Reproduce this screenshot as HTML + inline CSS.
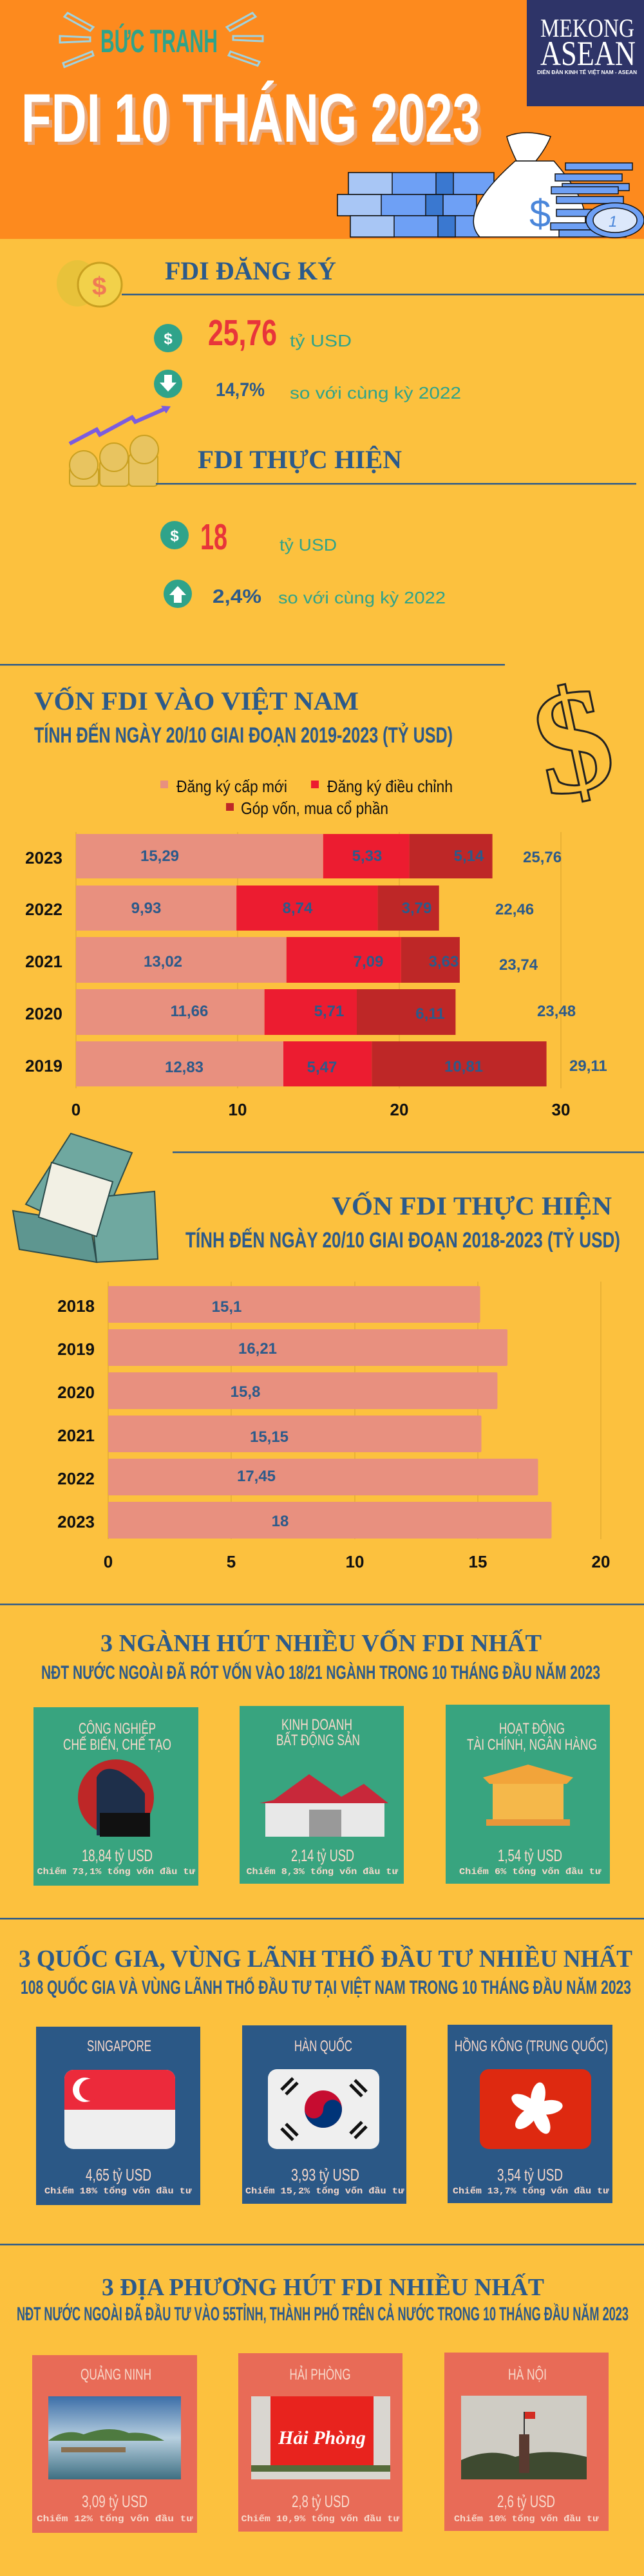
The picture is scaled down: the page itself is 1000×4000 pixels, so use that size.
<!DOCTYPE html>
<html><head><meta charset="utf-8"><style>html,body{margin:0;padding:0;background:#FCC13E}svg{display:block}</style></head>
<body>
<svg width="1000" height="4000" viewBox="0 0 1000 4000" xmlns="http://www.w3.org/2000/svg" font-family="Liberation Sans, sans-serif">
<rect width="1000" height="4000" fill="#FCC13E"/>
<!-- HEADER -->
<rect width="1000" height="371" fill="#FD8A1E"/>
<rect x="818" y="0" width="182" height="165" fill="#2E3468"/>
<text x="839" y="57" font-family="Liberation Serif, serif" font-size="40" fill="#fff" textLength="146" lengthAdjust="spacingAndGlyphs">MEKONG</text>
<text x="839" y="101" font-family="Liberation Serif, serif" font-size="54" fill="#fff" textLength="148" lengthAdjust="spacingAndGlyphs">ASEAN</text>
<text x="834" y="115" font-size="8" font-weight="bold" fill="#fff" textLength="155" lengthAdjust="spacingAndGlyphs">DIỄN ĐÀN KINH TẾ VIỆT NAM - ASEAN</text>
<g stroke="#9FD3E0" stroke-width="3" fill="none">
<path d="M105 20 L145 42 L140 48 L100 26Z"/><path d="M93 56 L140 58 L140 64 L93 66Z"/><path d="M98 98 L143 80 L145 86 L100 104Z"/>
<path d="M392 20 L352 42 L357 48 L397 26Z"/><path d="M362 56 L408 56 L408 64 L362 62Z"/><path d="M358 80 L403 96 L400 102 L355 86Z"/>
</g>
<text x="156" y="81" font-size="50" font-weight="bold" fill="#2FA38A" textLength="182" lengthAdjust="spacingAndGlyphs">BỨC TRANH</text>
<text x="38" y="225" font-size="107" font-weight="bold" fill="#E8A77A" textLength="712" lengthAdjust="spacingAndGlyphs">FDI 10 THÁNG 2023</text>
<text x="33" y="220" font-size="107" font-weight="bold" fill="#fff" textLength="712" lengthAdjust="spacingAndGlyphs">FDI 10 THÁNG 2023</text>
<!-- money illustration -->
<g stroke="#111" stroke-width="1.5">
<rect x="541" y="268" width="226" height="34" fill="#6EA0F5"/><rect x="541" y="268" width="68" height="34" fill="#A8C6F5"/><rect x="677" y="268" width="27" height="34" fill="#3A78D0"/>
<rect x="524" y="302" width="216" height="33" fill="#6EA0F5"/><rect x="524" y="302" width="68" height="33" fill="#A8C6F5"/><rect x="661" y="302" width="27" height="33" fill="#3A78D0"/>
<rect x="544" y="335" width="216" height="33" fill="#6EA0F5"/><rect x="544" y="335" width="68" height="33" fill="#A8C6F5"/><rect x="680" y="335" width="27" height="33" fill="#3A78D0"/>
<path d="M802 250 Q790 225 787 212 Q815 200 855 212 Q848 230 832 250Z" fill="#fff"/>
<path d="M800 250 L860 250 Q930 330 900 368 L745 368 Q710 330 800 250Z" fill="#fff"/>
<rect x="878" y="253" width="104" height="11" fill="#6EA0F5"/><rect x="862" y="270" width="104" height="11" fill="#6EA0F5"/>
<rect x="873" y="285" width="104" height="11" fill="#6EA0F5"/><rect x="856" y="290" width="104" height="11" fill="#6EA0F5"/>
<rect x="864" y="305" width="104" height="11" fill="#6EA0F5"/><rect x="864" y="325" width="104" height="11" fill="#6EA0F5"/>
<rect x="855" y="346" width="104" height="11" fill="#6EA0F5"/><rect x="868" y="357" width="104" height="11" fill="#6EA0F5"/>
<ellipse cx="955" cy="342" rx="45" ry="27" fill="#6EA0F5"/><ellipse cx="955" cy="342" rx="34" ry="19" fill="#DCE8FB"/>
</g>
<text x="822" y="352" font-size="60" fill="#4A86DA">$</text>
<text x="945" y="352" font-size="24" font-style="italic" fill="#4A86DA">1</text>
<!-- FDI DANG KY -->
<g>
<ellipse cx="120" cy="440" rx="32" ry="36" fill="#E8C23A"/><circle cx="155" cy="442" r="34" fill="#F2D14A" stroke="#C9A020" stroke-width="3"/>
<text x="143" y="458" font-size="40" font-weight="bold" fill="#F07A55">$</text>
</g>
<text x="256" y="434" font-family="Liberation Serif, serif" font-size="40" font-weight="bold" fill="#2C5A8A" textLength="266" lengthAdjust="spacingAndGlyphs">FDI ĐĂNG KÝ</text>
<rect x="189" y="456" width="811" height="2.5" fill="#2C5A8A"/>
<circle cx="261" cy="525" r="22" fill="#2FA38A"/><text x="261" y="534" text-anchor="middle" font-size="24" font-weight="bold" fill="#fff">$</text>
<text x="323" y="536" font-size="57" font-weight="bold" fill="#E8353A" textLength="107" lengthAdjust="spacingAndGlyphs">25,76</text>
<text x="450" y="538" font-size="26" fill="#2FA38A" textLength="96" lengthAdjust="spacingAndGlyphs">tỷ USD</text>
<circle cx="261" cy="596" r="22" fill="#2FA38A"/><path d="M255 582 h12 v12 h7 l-13 14 l-13 -14 h7z" fill="#fff"/>
<text x="335" y="615" font-size="30" font-weight="bold" fill="#2C5A8A" textLength="76" lengthAdjust="spacingAndGlyphs">14,7%</text>
<text x="450" y="619" font-size="26" fill="#2FA38A" textLength="266" lengthAdjust="spacingAndGlyphs">so với cùng kỳ 2022</text>
<path d="M108 689 L150 667 L155 675 L205 648 L210 655 L258 634" stroke="#7B5CE0" stroke-width="6" fill="none"/>
<path d="M265 631 L250 630 L258 642Z" fill="#7B5CE0"/>
<g fill="#E8C460" stroke="#C9A020" stroke-width="2">
<rect x="108" y="725" width="45" height="30" rx="6"/><rect x="155" y="715" width="45" height="40" rx="6"/><rect x="200" y="705" width="45" height="50" rx="6"/>
<circle cx="130" cy="722" r="22"/><circle cx="177" cy="710" r="22"/><circle cx="224" cy="698" r="22"/>
</g>
<text x="307" y="727" font-family="Liberation Serif, serif" font-size="40" font-weight="bold" fill="#2C5A8A" textLength="317" lengthAdjust="spacingAndGlyphs">FDI THỰC HIỆN</text>
<rect x="242" y="750" width="746" height="2.5" fill="#2C5A8A"/>
<circle cx="271" cy="831" r="22" fill="#2FA38A"/><text x="271" y="840" text-anchor="middle" font-size="24" font-weight="bold" fill="#fff">$</text>
<text x="311" y="853" font-size="57" font-weight="bold" fill="#E8353A" textLength="42" lengthAdjust="spacingAndGlyphs">18</text>
<text x="434" y="855" font-size="26" fill="#2FA38A" textLength="89" lengthAdjust="spacingAndGlyphs">tỷ USD</text>
<circle cx="276" cy="922" r="22" fill="#2FA38A"/><path d="M270 936 h12 v-12 h7 l-13 -14 l-13 14 h7z" fill="#fff"/>
<text x="330" y="936" font-size="30" font-weight="bold" fill="#2C5A8A" textLength="76" lengthAdjust="spacingAndGlyphs">2,4%</text>
<text x="432" y="937" font-size="26" fill="#2FA38A" textLength="260" lengthAdjust="spacingAndGlyphs">so với cùng kỳ 2022</text>
<!-- CHART 1 -->
<rect x="0" y="1031" width="784" height="2.5" fill="#2C5A8A"/>
<text x="53" y="1102" font-family="Liberation Serif, serif" font-size="40" font-weight="bold" fill="#2C5A8A" textLength="504" lengthAdjust="spacingAndGlyphs">VỐN FDI VÀO VIỆT NAM</text>
<text x="53" y="1153" font-size="34" font-weight="bold" fill="#2C5A8A" textLength="650" lengthAdjust="spacingAndGlyphs">TÍNH ĐẾN NGÀY 20/10 GIAI ĐOẠN 2019-2023 (TỶ USD)</text>
<text x="830" y="1230" font-family="Liberation Serif, serif" font-size="230" font-weight="bold" fill="#FCC13E" stroke="#222" stroke-width="3" transform="rotate(-12 880 1140)">$</text>
<rect x="249" y="1212" width="12" height="12" fill="#E8907F"/><text x="274" y="1230" font-size="26" fill="#111" textLength="172" lengthAdjust="spacingAndGlyphs">Đăng ký cấp mới</text>
<rect x="483" y="1212" width="12" height="12" fill="#EC1C30"/><text x="508" y="1230" font-size="26" fill="#111" textLength="195" lengthAdjust="spacingAndGlyphs">Đăng ký điều chỉnh</text>
<rect x="351" y="1247" width="12" height="12" fill="#BE2727"/><text x="374" y="1264" font-size="26" fill="#111" textLength="229" lengthAdjust="spacingAndGlyphs">Góp vốn, mua cổ phần</text>
<g stroke="#D9A22E" stroke-width="1"><line x1="118" y1="1292" x2="118" y2="1690"/><line x1="369" y1="1292" x2="369" y2="1690"/><line x1="620" y1="1292" x2="620" y2="1690"/><line x1="871" y1="1292" x2="871" y2="1690"/></g>
<g font-size="24" font-weight="bold" fill="#2C5A8A">
<rect x="118" y="1295" width="383.8" height="69" fill="#E8907F"/><rect x="501.8" y="1295" width="133.8" height="69" fill="#EC1C30"/><rect x="635.6" y="1295" width="129" height="69" fill="#BE2727"/>
<text x="248" y="1337" text-anchor="middle">15,29</text><text x="570" y="1337" text-anchor="middle">5,33</text><text x="728" y="1337" text-anchor="middle">5,14</text><text x="812" y="1339">25,76</text>
<rect x="118" y="1375" width="249.2" height="70" fill="#E8907F"/><rect x="367.2" y="1375" width="219.4" height="70" fill="#EC1C30"/><rect x="586.6" y="1375" width="95.1" height="70" fill="#BE2727"/>
<text x="227" y="1418" text-anchor="middle">9,93</text><text x="462" y="1418" text-anchor="middle">8,74</text><text x="647" y="1418" text-anchor="middle">3,79</text><text x="769" y="1420">22,46</text>
<rect x="118" y="1455" width="326.8" height="71" fill="#E8907F"/><rect x="444.8" y="1455" width="178" height="71" fill="#EC1C30"/><rect x="622.8" y="1455" width="91.1" height="71" fill="#BE2727"/>
<text x="253" y="1501" text-anchor="middle">13,02</text><text x="572" y="1501" text-anchor="middle">7,09</text><text x="689" y="1501" text-anchor="middle">3,63</text><text x="775" y="1506">23,74</text>
<rect x="118" y="1536" width="292.7" height="71" fill="#E8907F"/><rect x="410.7" y="1536" width="143.3" height="71" fill="#EC1C30"/><rect x="554" y="1536" width="153.4" height="71" fill="#BE2727"/>
<text x="294" y="1578" text-anchor="middle">11,66</text><text x="511" y="1578" text-anchor="middle">5,71</text><text x="668" y="1582" text-anchor="middle">6,11</text><text x="834" y="1578">23,48</text>
<rect x="118" y="1617" width="322" height="70" fill="#E8907F"/><rect x="440" y="1617" width="137.3" height="70" fill="#EC1C30"/><rect x="577.3" y="1617" width="271.3" height="70" fill="#BE2727"/>
<text x="286" y="1665" text-anchor="middle">12,83</text><text x="500" y="1665" text-anchor="middle">5,47</text><text x="720" y="1664" text-anchor="middle">10,81</text><text x="884" y="1663">29,11</text>
</g>
<g font-size="26" font-weight="bold" fill="#111" text-anchor="end">
<text x="97" y="1341">2023</text><text x="97" y="1421">2022</text><text x="97" y="1502">2021</text><text x="97" y="1583">2020</text><text x="97" y="1664">2019</text>
</g>
<g font-size="26" font-weight="bold" fill="#111" text-anchor="middle">
<text x="118" y="1732">0</text><text x="369" y="1732">10</text><text x="620" y="1732">20</text><text x="871" y="1732">30</text>
</g>
<!-- money stack -->
<g stroke="#2A4A4A" stroke-width="2">
<path d="M40 1870 L110 1760 L205 1790 L150 1920Z" fill="#6FA8A0"/>
<path d="M140 1860 L240 1850 L245 1955 L150 1960Z" fill="#6FA8A0"/>
<path d="M20 1880 L140 1900 L150 1960 L30 1940Z" fill="#5E9690"/>
<path d="M80 1805 L175 1835 L150 1920 L60 1890Z" fill="#F2F0E4"/>
</g>
<rect x="268" y="1788" width="732" height="2.5" fill="#2C5A8A"/>
<text x="515" y="1886" font-family="Liberation Serif, serif" font-size="40" font-weight="bold" fill="#2C5A8A" textLength="435" lengthAdjust="spacingAndGlyphs">VỐN FDI THỰC HIỆN</text>
<text x="288" y="1937" font-size="34" font-weight="bold" fill="#2C5A8A" textLength="675" lengthAdjust="spacingAndGlyphs">TÍNH ĐẾN NGÀY 20/10 GIAI ĐOẠN 2018-2023 (TỶ USD)</text>
<!-- CHART 2 -->
<g stroke="#D9A22E" stroke-width="1"><line x1="168" y1="1990" x2="168" y2="2390"/><line x1="359" y1="1990" x2="359" y2="2390"/><line x1="551" y1="1990" x2="551" y2="2390"/><line x1="742" y1="1990" x2="742" y2="2390"/><line x1="933" y1="1990" x2="933" y2="2390"/></g>
<g fill="#E8907F">
<rect x="168" y="1997" width="577.6" height="57" rx="2"/><rect x="168" y="2064" width="620" height="57" rx="2"/><rect x="168" y="2131" width="604.4" height="57" rx="2"/>
<rect x="168" y="2198" width="579.5" height="57" rx="2"/><rect x="168" y="2265" width="667.5" height="57" rx="2"/><rect x="168" y="2332" width="688.5" height="57" rx="2"/>
</g>
<g font-size="24" font-weight="bold" fill="#2C5A8A" text-anchor="middle">
<text x="352" y="2037">15,1</text><text x="400" y="2102">16,21</text><text x="381" y="2169">15,8</text><text x="418" y="2239">15,15</text><text x="398" y="2300">17,45</text><text x="435" y="2370">18</text>
</g>
<g font-size="26" font-weight="bold" fill="#111" text-anchor="end">
<text x="147" y="2037">2018</text><text x="147" y="2104">2019</text><text x="147" y="2171">2020</text><text x="147" y="2238">2021</text><text x="147" y="2305">2022</text><text x="147" y="2372">2023</text>
</g>
<g font-size="26" font-weight="bold" fill="#111" text-anchor="middle">
<text x="168" y="2434">0</text><text x="359" y="2434">5</text><text x="551" y="2434">10</text><text x="742" y="2434">15</text><text x="933" y="2434">20</text>
</g>
<!-- SECTORS -->
<rect x="0" y="2490" width="1000" height="2.5" fill="#2C5A8A"/>
<text x="156" y="2564" font-family="Liberation Serif, serif" font-size="38" font-weight="bold" fill="#2C5A8A" textLength="685" lengthAdjust="spacingAndGlyphs">3 NGÀNH HÚT NHIỀU VỐN FDI NHẤT</text>
<text x="64" y="2607" font-size="30" font-weight="bold" fill="#2C5A8A" textLength="868" lengthAdjust="spacingAndGlyphs">NĐT NƯỚC NGOÀI ĐÃ RÓT VỐN VÀO 18/21 NGÀNH TRONG 10 THÁNG ĐẦU NĂM 2023</text>
<g fill="#38A47F"><rect x="52" y="2651" width="256" height="277"/><rect x="372" y="2649" width="255" height="276"/><rect x="692" y="2647" width="255" height="278"/></g>
<g font-size="24" fill="#F8D9CB" text-anchor="middle">
<text x="182" y="2692" textLength="120" lengthAdjust="spacingAndGlyphs">CÔNG NGHIỆP</text><text x="182" y="2717" textLength="168" lengthAdjust="spacingAndGlyphs">CHẾ BIẾN, CHẾ TẠO</text>
<text x="492" y="2686" textLength="110" lengthAdjust="spacingAndGlyphs">KINH DOANH</text><text x="494" y="2710" textLength="130" lengthAdjust="spacingAndGlyphs">BẤT ĐỘNG SẢN</text>
<text x="826" y="2692" textLength="102" lengthAdjust="spacingAndGlyphs">HOẠT ĐỘNG</text><text x="826" y="2717" textLength="202" lengthAdjust="spacingAndGlyphs">TÀI CHÍNH, NGÂN HÀNG</text>
<text x="182" y="2890" font-size="26" textLength="110" lengthAdjust="spacingAndGlyphs">18,84 tỷ USD</text>
<text x="501" y="2890" font-size="26" textLength="98" lengthAdjust="spacingAndGlyphs">2,14 tỷ USD</text>
<text x="823" y="2890" font-size="26" textLength="100" lengthAdjust="spacingAndGlyphs">1,54 tỷ USD</text>
</g>
<g font-family="Liberation Mono, monospace" font-size="14" font-weight="bold" fill="#F8D9CB" text-anchor="middle">
<text x="180" y="2910" textLength="245" lengthAdjust="spacingAndGlyphs">Chiếm 73,1% tổng vốn đầu tư</text>
<text x="500" y="2910" textLength="235" lengthAdjust="spacingAndGlyphs">Chiếm 8,3% tổng vốn đầu tư</text>
<text x="823" y="2910" textLength="220" lengthAdjust="spacingAndGlyphs">Chiếm 6% tổng vốn đầu tư</text>
</g>
<circle cx="180" cy="2791" r="59" fill="#BE2727"/>
<path d="M150 2760 Q160 2740 185 2750 Q210 2765 225 2785 L225 2850 L150 2850Z" fill="#1E2F4A"/>
<rect x="155" y="2815" width="78" height="37" fill="#111"/>
<path d="M425 2795 L480 2755 L530 2790 L565 2770 L603 2800 L403 2800Z" fill="#C8283A"/>
<rect x="412" y="2800" width="185" height="52" fill="#E8E8E8"/><rect x="480" y="2810" width="50" height="42" fill="#999"/>
<path d="M750 2760 L820 2740 L890 2760 L880 2770 L760 2770Z" fill="#F2A43A"/>
<rect x="765" y="2770" width="110" height="55" fill="#F5B84A"/>
<rect x="755" y="2825" width="130" height="10" fill="#E8963A"/>
<!-- COUNTRIES -->
<rect x="0" y="2978" width="1000" height="2.5" fill="#2C5A8A"/>
<text x="29" y="3054" font-family="Liberation Serif, serif" font-size="38" font-weight="bold" fill="#2C5A8A" textLength="953" lengthAdjust="spacingAndGlyphs">3 QUỐC GIA, VÙNG LÃNH THỔ ĐẦU TƯ NHIỀU NHẤT</text>
<text x="32" y="3096" font-size="30" font-weight="bold" fill="#2C5A8A" textLength="948" lengthAdjust="spacingAndGlyphs">108 QUỐC GIA VÀ VÙNG LÃNH THỔ ĐẦU TƯ TẠI VIỆT NAM TRONG 10 THÁNG ĐẦU NĂM 2023</text>
<g fill="#2B5886"><rect x="56" y="3147" width="255" height="277"/><rect x="376" y="3145" width="255" height="277"/><rect x="695" y="3144" width="256" height="277"/></g>
<g font-size="24" fill="#F8D9CB" text-anchor="middle">
<text x="185" y="3185" textLength="100" lengthAdjust="spacingAndGlyphs">SINGAPORE</text>
<text x="502" y="3185" textLength="90" lengthAdjust="spacingAndGlyphs">HÀN QUỐC</text>
<text x="825" y="3185" textLength="238" lengthAdjust="spacingAndGlyphs">HỒNG KÔNG (TRUNG QUỐC)</text>
<text x="184" y="3386" font-size="26" textLength="102" lengthAdjust="spacingAndGlyphs">4,65 tỷ USD</text>
<text x="505" y="3386" font-size="26" textLength="106" lengthAdjust="spacingAndGlyphs">3,93  tỷ USD</text>
<text x="823" y="3386" font-size="26" textLength="102" lengthAdjust="spacingAndGlyphs">3,54 tỷ USD</text>
</g>
<g font-family="Liberation Mono, monospace" font-size="14" font-weight="bold" fill="#F8D9CB" text-anchor="middle">
<text x="183" y="3406" textLength="228" lengthAdjust="spacingAndGlyphs">Chiếm 18% tổng vốn đầu tư</text>
<text x="504" y="3406" textLength="246" lengthAdjust="spacingAndGlyphs">Chiếm 15,2% tổng vốn đầu tư</text>
<text x="824" y="3406" textLength="242" lengthAdjust="spacingAndGlyphs">Chiếm 13,7% tổng vốn đầu tư</text>
</g>
<rect x="100" y="3214" width="172" height="123" rx="14" fill="#EFEFEF"/><path d="M100 3276 V3228 a14 14 0 0 1 14 -14 H258 a14 14 0 0 1 14 14 V3276Z" fill="#EC2A3B"/>
<circle cx="132" cy="3245" r="19" fill="#fff"/><circle cx="140" cy="3245" r="17" fill="#EC2A3B"/>
<rect x="416" y="3213" width="173" height="124" rx="14" fill="#EFEFEF"/>
<circle cx="502" cy="3275" r="29" fill="#C60C30"/><path d="M473 3275 a14.5 14.5 0 0 0 29 0 a14.5 14.5 0 0 1 29 0 a29 29 0 0 1 -58 0Z" fill="#003478"/>
<g stroke="#111" stroke-width="5"><line x1="437" y1="3245" x2="455" y2="3227"/><line x1="444" y1="3252" x2="462" y2="3234"/><line x1="551" y1="3230" x2="569" y2="3248"/><line x1="544" y1="3237" x2="562" y2="3255"/><line x1="437" y1="3305" x2="455" y2="3323"/><line x1="444" y1="3298" x2="462" y2="3316"/><line x1="551" y1="3320" x2="569" y2="3302"/><line x1="544" y1="3313" x2="562" y2="3295"/></g>
<rect x="745" y="3213" width="173" height="124" rx="14" fill="#DE2910"/>
<g fill="#fff" transform="translate(832 3275)">
<ellipse cx="0" cy="-20" rx="11" ry="22" transform="rotate(10)"/><ellipse cx="0" cy="-20" rx="11" ry="22" transform="rotate(82)"/><ellipse cx="0" cy="-20" rx="11" ry="22" transform="rotate(154)"/><ellipse cx="0" cy="-20" rx="11" ry="22" transform="rotate(226)"/><ellipse cx="0" cy="-20" rx="11" ry="22" transform="rotate(298)"/>
</g>
<!-- PROVINCES -->
<rect x="0" y="3484" width="1000" height="2.5" fill="#2C5A8A"/>
<text x="158" y="3564" font-family="Liberation Serif, serif" font-size="38" font-weight="bold" fill="#2C5A8A" textLength="687" lengthAdjust="spacingAndGlyphs">3 ĐỊA PHƯƠNG HÚT FDI NHIỀU NHẤT</text>
<text x="26" y="3603" font-size="30" font-weight="bold" fill="#2C5A8A" textLength="950" lengthAdjust="spacingAndGlyphs">NĐT NƯỚC NGOÀI ĐÃ ĐẦU TƯ VÀO 55TỈNH, THÀNH PHỐ TRÊN CẢ NƯỚC TRONG 10 THÁNG ĐẦU NĂM 2023</text>
<g fill="#E86B57"><rect x="50" y="3657" width="256" height="276"/><rect x="370" y="3654" width="255" height="277"/><rect x="690" y="3653" width="255" height="277"/></g>
<g font-size="24" fill="#F8D9CB" text-anchor="middle">
<text x="180" y="3695" textLength="110" lengthAdjust="spacingAndGlyphs">QUẢNG NINH</text>
<text x="497" y="3695" textLength="95" lengthAdjust="spacingAndGlyphs">HẢI PHÒNG</text>
<text x="819" y="3695" textLength="60" lengthAdjust="spacingAndGlyphs">HÀ NỘI</text>
<text x="178" y="3893" font-size="26" textLength="102" lengthAdjust="spacingAndGlyphs">3,09 tỷ USD</text>
<text x="498" y="3893" font-size="26" textLength="90" lengthAdjust="spacingAndGlyphs">2,8 tỷ USD</text>
<text x="817" y="3893" font-size="26" textLength="90" lengthAdjust="spacingAndGlyphs">2,6 tỷ USD</text>
</g>
<g font-family="Liberation Mono, monospace" font-size="14" font-weight="bold" fill="#F8D9CB" text-anchor="middle">
<text x="178" y="3915" textLength="242" lengthAdjust="spacingAndGlyphs">Chiếm 12% tổng vốn đầu tư</text>
<text x="497" y="3915" textLength="245" lengthAdjust="spacingAndGlyphs">Chiếm 10,9% tổng vốn đầu tư</text>
<text x="817" y="3915" textLength="224" lengthAdjust="spacingAndGlyphs">Chiếm 10% tổng vốn đầu tư</text>
</g>
<defs><linearGradient id="qn" x1="0" y1="0" x2="0" y2="1"><stop offset="0" stop-color="#3C6EA8"/><stop offset="0.5" stop-color="#B8D0E0"/><stop offset="1" stop-color="#3E6F82"/></linearGradient></defs>
<rect x="75" y="3721" width="206" height="129" fill="url(#qn)"/>
<path d="M75 3790 Q100 3770 130 3780 Q170 3765 200 3778 Q230 3775 255 3790 Z" fill="#4E7A40"/>
<rect x="95" y="3800" width="100" height="8" fill="#8A7050"/>
<rect x="390" y="3721" width="216" height="129" fill="#D9D6D0"/>
<rect x="420" y="3721" width="160" height="115" fill="#E8231E"/>
<rect x="390" y="3828" width="216" height="10" fill="#556B3A"/>
<text x="500" y="3795" font-family="Liberation Serif, serif" font-style="italic" font-weight="bold" font-size="30" fill="#fff" text-anchor="middle">Hải Phòng</text>
<rect x="716" y="3720" width="195" height="130" fill="#CFCCC4"/>
<path d="M716 3820 Q760 3800 800 3815 Q850 3800 911 3815 V3850 H716Z" fill="#3E4A30"/>
<rect x="806" y="3780" width="16" height="60" fill="#5A3A30"/>
<rect x="813" y="3745" width="2" height="35" fill="#333"/><rect x="815" y="3745" width="16" height="11" fill="#D32C22"/>
</svg>
</body></html>
